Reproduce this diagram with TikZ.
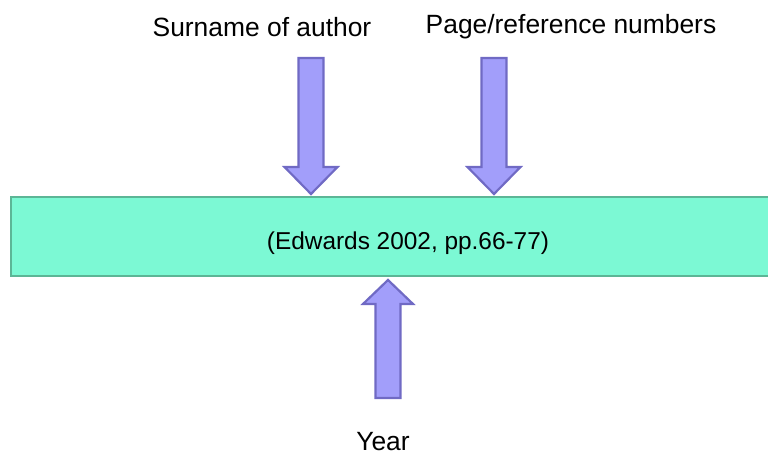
\documentclass[tikz,border=0pt]{standalone}
\usepackage{fontspec}
\setmainfont{Liberation Sans}
\usepackage{tikz}

\definecolor{boxgreen}{RGB}{124,249,212}
\definecolor{boxedge}{RGB}{92,182,150}
\definecolor{arrowblue}{RGB}{162,158,250}
\definecolor{arrowedge}{RGB}{112,106,196}

\begin{document}
\begin{tikzpicture}[x=0.5pt, y=0.5pt,
	every node/.style = {font=\fontsize{13.2}{16}\selectfont, inner sep=0pt},
	citebox/.style = {draw=boxedge, line width=1pt, fill=boxgreen,
		minimum width=381pt, minimum height=39.5pt, anchor=west},
	arrowfill/.style = {draw=arrowedge, line width=1.1pt, fill=arrowblue, line join=miter},
	pics/downarrow/.style = {code={
		\draw[arrowfill] (-12.5,0) -- (12.5,0) -- (12.5,-109) -- (26.5,-109)
			-- (0,-136) -- (-26.5,-109) -- (-12.5,-109) -- cycle;
	}},
	pics/uparrow/.style = {code={
		\draw[arrowfill] (-12.5,0) -- (12.5,0) -- (12.5,94) -- (25,94)
			-- (0,118) -- (-25,94) -- (-12.5,94) -- cycle;
	}}]
	\useasboundingbox (0,0) rectangle (768,455);

	% citation box
	\node[citebox] (cite) at (10,218.5) {};
	\node[font=\fontsize{12.2}{15}\selectfont] (citetext) at (408,212) {(Edwards 2002, pp.66-77)};

	% labels
	\node (surname) at (262,428) {Surname of author};
	\node (pages) at (571,428) {Page/reference numbers};
	\node (year) at (383,13) {Year};

	% block arrows
	\pic at (311,397) {downarrow};
	\pic at (494,397) {downarrow};
	\pic at (388,57) {uparrow};
\end{tikzpicture}
\end{document}
